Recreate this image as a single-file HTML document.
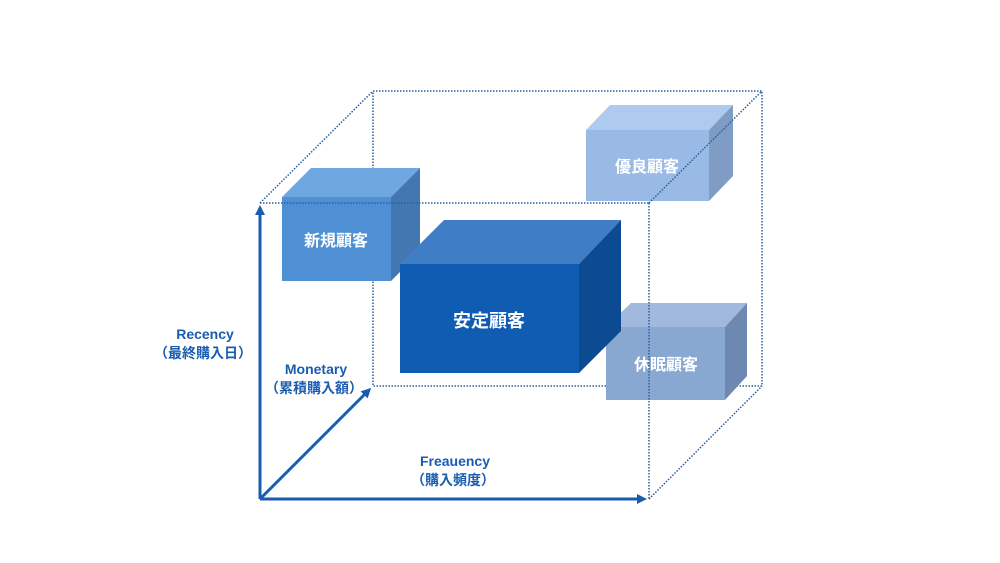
<!DOCTYPE html>
<html><head><meta charset="utf-8"><style>
body{margin:0;background:#fff;}
svg{display:block}
text{font-family:"Liberation Sans","Noto Sans CJK JP",sans-serif;font-weight:bold;}
</style></head><body>
<svg width="1000" height="563" viewBox="0 0 1000 563">
<defs>
<marker id="ah" markerWidth="10" markerHeight="10" refX="7" refY="5" orient="auto" markerUnits="userSpaceOnUse">
<path d="M0,0 L10,5 L0,10 Z" fill="#1a5cb0"/></marker>
</defs>
<g stroke="#2a5f9e" stroke-width="1.5" stroke-dasharray="1.5 1.5" fill="none">
<rect x="373" y="91" width="389" height="295"/>
<line x1="260" y1="203" x2="373" y2="91"/>
<line x1="649" y1="499" x2="762" y2="386"/>
</g>
<polygon points="586,130 610,105 733,105 709,130" fill="#aecaee"/>
<polygon points="709,130 733,105 733,176 709,201" fill="#7f9cc4"/>
<rect x="586" y="130" width="123" height="71" fill="#9abae6"/>
<text x="647" y="172" fill="#fff" font-size="16" text-anchor="middle">優良顧客</text>
<polygon points="282,197 311,168 420,168 391,197" fill="#6fa8e0"/>
<polygon points="391,197 420,168 420,252 391,281" fill="#4277b2"/>
<rect x="282" y="197" width="109" height="84" fill="#4f90d4"/>
<text x="336" y="246" fill="#fff" font-size="16" text-anchor="middle">新規顧客</text>
<polygon points="606,327 631,303 747,303 725,327" fill="#a0b9dc"/>
<polygon points="725,327 747,303 747,376 725,400" fill="#6d89b1"/>
<rect x="606" y="327" width="119" height="73" fill="#88a8d2"/>
<text x="666" y="370" fill="#fff" font-size="16" text-anchor="middle">休眠顧客</text>
<polygon points="400,264 444,220 621,220 579,264" fill="#3f7ec4"/>
<polygon points="579,264 621,220 621,331 579,373" fill="#0c4a91"/>
<rect x="400" y="264" width="179" height="109" fill="#105cb2"/>
<text x="489" y="327" fill="#fff" font-size="18" text-anchor="middle">安定顧客</text>
<g stroke="#2a5f9e" stroke-width="1.5" stroke-dasharray="1.5 1.5" fill="none">
<line x1="260" y1="203" x2="649" y2="203"/>
<line x1="649" y1="203" x2="649" y2="499"/>
<line x1="649" y1="203" x2="762" y2="91"/>
</g>
<g stroke="#1a5cb0" stroke-width="3" fill="none">
<line x1="260" y1="499" x2="260" y2="208" marker-end="url(#ah)"/>
<line x1="260" y1="499" x2="644" y2="499" marker-end="url(#ah)"/>
<line x1="260" y1="499" x2="369" y2="390" marker-end="url(#ah)"/>
</g>
<g fill="#1a5cb0" font-size="14" text-anchor="middle">
<text x="205" y="339">Recency</text>
<text x="203" y="358">（最終購入日）</text>
<text x="316" y="374">Monetary</text>
<text x="314" y="393">（累積購入額）</text>
<text x="455" y="466">Freauency</text>
<text x="453" y="485">（購入頻度）</text>
</g>
</svg>
</body></html>
